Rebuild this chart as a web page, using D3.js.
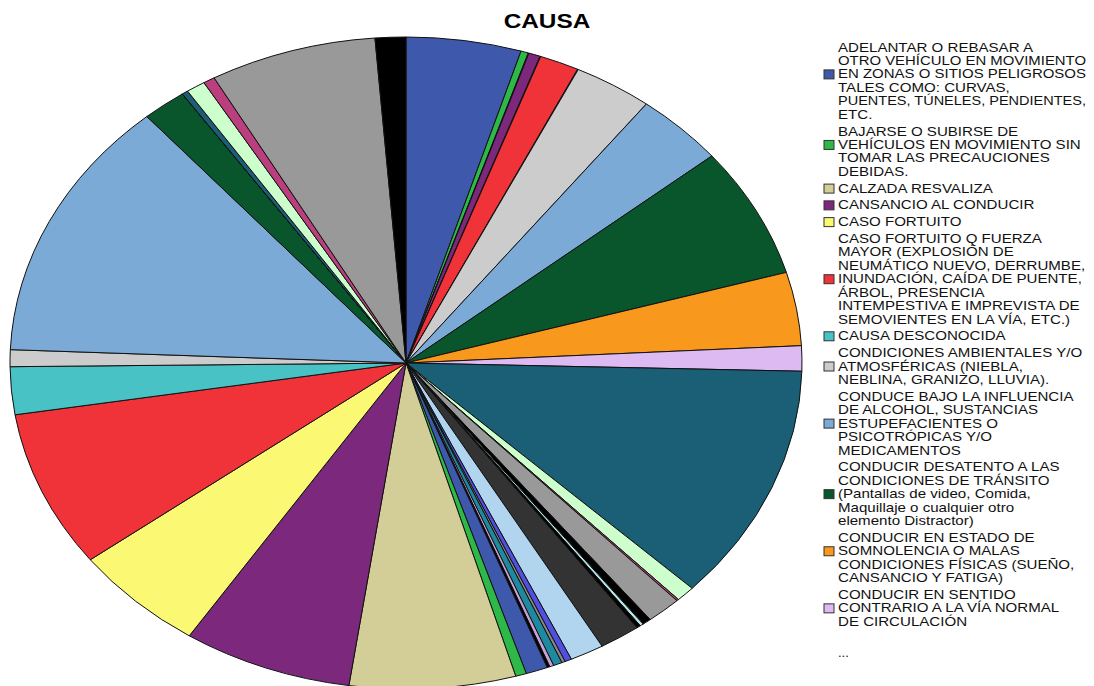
<!DOCTYPE html>
<html lang="es">
<head>
  <meta charset="UTF-8">
  <title>CAUSA</title>
  <script src="https://d3js.org/d3.v7.min.js"></script>
  <style>
    body { margin: 0; background: #fff; }
    svg { display: block; font-family: "Liberation Sans", Arial, sans-serif; }
  </style>
</head>
<body>
  <div id="chart"></div>

  <script>
    // Valores estimados de cada porción (en el orden de las categorías, sentido horario desde arriba)
    const values = [169, 11, 1, 17, 1, 58, 1, 116, 132, 233, 131, 45, 423, 28, 3, 51, 13, 5, 6, 60,
                    50, 10, 5, 13, 6, 4, 32, 16, 244, 249, 197, 280, 85, 30, 468, 65, 0, 0, 9, 28,
                    17, 245, 45];

    // Paleta que se repite cada 26 categorías
    const palette = ["#3E58AC", "#2EB848", "#D3CE97", "#7C287D", "#FBF873", "#EF3338", "#48C2C5",
                     "#CCCCCC", "#7AAAD5", "#0A562C", "#F8981D", "#DDBAF1", "#1A5F76", "#CCFFCC",
                     "#BB3F7F", "#999999", "#000000", "#B6E7E8", "#000000", "#333333", "#B1D4EF",
                     "#5050E0", "#888888", "#1E8AA0", "#C8A0D8", "#000000"];

    // Leyenda visible (primeras 12 categorías)
    const legendLabels = [
      ["ADELANTAR O REBASAR A", "OTRO VEHÍCULO EN MOVIMIENTO", "EN ZONAS O SITIOS PELIGROSOS", "TALES COMO: CURVAS,", "PUENTES, TÚNELES, PENDIENTES,", "ETC."],
      ["BAJARSE O SUBIRSE DE", "VEHÍCULOS EN MOVIMIENTO SIN", "TOMAR LAS PRECAUCIONES", "DEBIDAS."],
      ["CALZADA RESVALIZA"],
      ["CANSANCIO AL CONDUCIR"],
      ["CASO FORTUITO"],
      ["CASO FORTUITO Q FUERZA", "MAYOR (EXPLOSIÓN DE", "NEUMÁTICO NUEVO, DERRUMBE,", "INUNDACIÓN, CAÍDA DE PUENTE,", "ÁRBOL, PRESENCIA", "INTEMPESTIVA E IMPREVISTA DE", "SEMOVIENTES EN LA VÍA, ETC.)"],
      ["CAUSA DESCONOCIDA"],
      ["CONDICIONES AMBIENTALES Y/O", "ATMOSFÉRICAS (NIEBLA,", "NEBLINA, GRANIZO, LLUVIA)."],
      ["CONDUCE BAJO LA INFLUENCIA", "DE ALCOHOL, SUSTANCIAS", "ESTUPEFACIENTES O", "PSICOTRÓPICAS Y/O", "MEDICAMENTOS"],
      ["CONDUCIR DESATENTO A LAS", "CONDICIONES DE TRÁNSITO", "(Pantallas de video, Comida,", "Maquillaje o cualquier otro", "elemento Distractor)"],
      ["CONDUCIR EN ESTADO DE", "SOMNOLENCIA O MALAS", "CONDICIONES FÍSICAS (SUEÑO,", "CANSANCIO Y FATIGA)"],
      ["CONDUCIR EN SENTIDO", "CONTRARIO A LA VÍA NORMAL", "DE CIRCULACIÓN"]
    ];

    const width = 1094, height = 686;
    const cx = 406, cy = 363, rx = 396, ry = 326;
    const stretch = 1.16; // el texto del original está ensanchado
    const maxW = 248;     // ancho máximo de una línea de leyenda

    const svg = d3.select("#chart")
                  .append("svg")
                  .attr("width", width)
                  .attr("height", height);

    // ensancha un texto con textLength (sin transformaciones)
    function widen(sel, limit) {
      const w = sel.node().getComputedTextLength();
      sel.attr("textLength", Math.min(w * stretch, limit))
         .attr("lengthAdjust", "spacingAndGlyphs");
    }

    const title = svg.append("text")
       .attr("x", 547)
       .attr("y", 28)
       .attr("text-anchor", "middle")
       .style("font-size", "21px")
       .style("font-weight", "bold")
       .text("CAUSA");
    widen(title, 200);

    const color = i => palette[i % palette.length];

    const pie = d3.pie().sort(null).value(d => d);
    const arc = d3.arc().innerRadius(0).outerRadius(ry);

    // el pastel está estirado horizontalmente (elipse)
    const g = svg.append("g")
                 .attr("transform", `translate(${cx},${cy}) scale(${rx / ry},1)`);

    g.selectAll("path")
     .data(pie(values))
     .enter()
     .append("path")
     .attr("d", arc)
     .attr("fill", (d, i) => color(i))
     .attr("stroke", "#111")
     .attr("stroke-width", 1)
     .attr("vector-effect", "non-scaling-stroke");

    // Leyenda
    const lh = 13.45, gap = 3.3, lx = 838;
    const legend = svg.append("g").style("font-size", "13px");
    let y = 47;
    legendLabels.forEach((lines, i) => {
      lines.forEach((t, j) => {
        const tx = legend.append("text")
            .attr("x", lx)
            .attr("y", y + j * lh)
            .attr("dy", "0.35em")
            .attr("fill", "#111")
            .text(t);
        widen(tx, maxW);
      });
      const sy = y + Math.floor((lines.length - 1) / 2) * lh;
      legend.append("rect")
          .attr("x", 824)
          .attr("y", sy - 4)
          .attr("width", 10)
          .attr("height", 9)
          .attr("fill", color(i))
          .attr("stroke", "#333")
          .attr("stroke-width", 1);
      y += lines.length * lh + gap;
    });

    legend.append("text")
          .attr("x", lx)
          .attr("y", 652)
          .attr("dy", "0.35em")
          .attr("fill", "#111")
          .text("...");
  </script>
</body>
</html>
